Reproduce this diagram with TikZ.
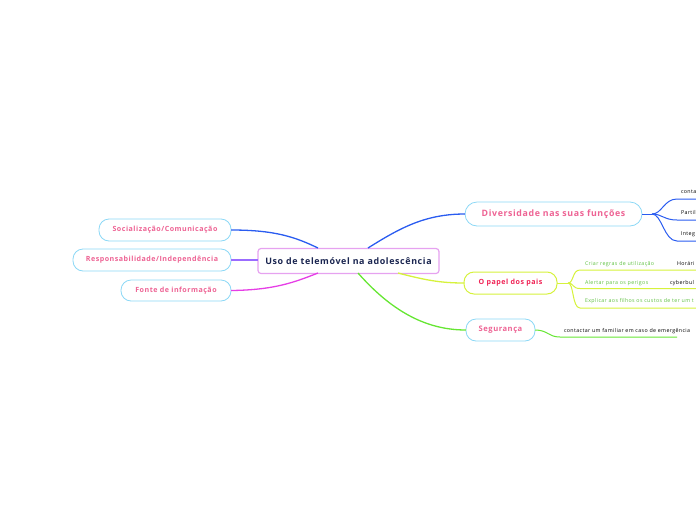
\documentclass[tikz,border=0pt]{standalone}
\usepackage{fontspec}
\setmainfont[LetterSpace=7]{Open Sans}
\begin{document}
\begin{tikzpicture}[x=1pt,y=-1pt,
  every node/.style={inner sep=0pt,outer sep=0pt},
  central/.style={draw=lav,line width=1.2pt,rounded corners=3pt,fill=white,text=navy,font=\fontsize{8.9}{10}\selectfont\bfseries,minimum height=25pt},
  pill/.style={draw=lblue,line width=0.8pt,rounded corners=10pt,fill=white,text=pinktxt,font=\fontsize{7.1}{8}\selectfont\bfseries,minimum height=22pt},
  pillyg/.style={pill,draw=yg,line width=1pt,text=redtxt},
  leaf/.style={font=\fontsize{5.3}{6}\selectfont,text=black,anchor=base west},
  leafg/.style={leaf,text=gtxt},
  conn/.style={line width=1.3pt},
  sub/.style={line width=1pt}]
\definecolor{lav}{HTML}{E6A2F0}
\definecolor{navy}{HTML}{1A2550}
\definecolor{lblue}{HTML}{8CD8F6}
\definecolor{pinktxt}{HTML}{EE6394}
\definecolor{redtxt}{HTML}{F02456}
\definecolor{yg}{HTML}{D6F23C}
\definecolor{gtxt}{HTML}{5EC040}
\definecolor{cblue}{HTML}{2A5CF0}
\definecolor{cpurp}{HTML}{9B6CFF}
\definecolor{cmag}{HTML}{E63EE6}
\definecolor{cgreen}{HTML}{66E633}
\useasboundingbox (0,0) rectangle (696,520);
\clip (0,0) rectangle (696,520);

\coordinate (cTL) at (318,248);
\coordinate (cTR) at (368,248);
\coordinate (cBL) at (318,273);
\coordinate (cBR) at (398,273);
\coordinate (cBM) at (358,273);

\node[central,minimum width=181pt] (c) at (348.5,261) {Uso de telemóvel na adolescência};

\node[pill,minimum width=132pt] (soc) at (165,230) {Socialização/Comunicação};
\node[pill,minimum width=158pt] (resp) at (152,260) {Responsabilidade/Independência};
\node[pill,minimum width=110pt,minimum height=21pt] (fonte) at (176,290.5) {Fonte de informação};

\node[pill,minimum width=177pt,minimum height=24pt,rounded corners=12pt,font=\fontsize{8.8}{10}\selectfont\bfseries] (div) at (553.5,214) {Diversidade nas suas funções};
\node[pillyg,minimum width=93pt] (pais) at (510.5,283) {O papel dos pais};
\node[pill,minimum width=69pt,font=\fontsize{7.6}{8}\selectfont\bfseries] (seg) at (500.5,330) {Segurança};

\draw[conn,cblue] (soc.east) .. controls (275,230) and (295,237) .. (cTL);
\draw[conn,cpurp] (resp.east) -- (c.west |- resp.east);
\draw[conn,cmag] (fonte.east) .. controls (275,290) and (295,282) .. (cBL);
\draw[conn,cblue] (cTR) .. controls (400,228) and (425,214) .. (div.west);
\draw[conn,yg] (cBR) .. controls (425,280) and (440,283) .. (pais.west);
\draw[conn,cgreen] (cBM) .. controls (395,315) and (430,330) .. (seg.west);

% Diversidade children
\coordinate (dj) at (652,214);
\coordinate (d1) at (677,199);
\coordinate (d2) at (677,220);
\coordinate (d3) at (677,241);
\draw[sub,cblue] (div.east) -- (dj);
\draw[sub,cblue] (dj) .. controls (662,214) and (664,199) .. (d1) -- (700,199);
\draw[sub,cblue] (dj) .. controls (662,214) and (664,220) .. (d2) -- (700,220);
\draw[sub,cblue] (dj) .. controls (662,214) and (664,241) .. (d3) -- (700,241);
\node[leaf] (dt1) at (681,193) {conta};
\node[leaf] (dt2) at (681,214.5) {Partil};
\node[leaf] (dt3) at (681,235.5) {Integ};

% Papel dos pais children
\coordinate (pj) at (568,283);
\coordinate (p1) at (580,270);
\coordinate (p1e) at (652,270);
\coordinate (p1b) at (668,270);
\coordinate (p2) at (580,288.5);
\coordinate (p2e) at (645,288.5);
\coordinate (p2b) at (665,288.5);
\coordinate (p3) at (580,308);
\draw[sub,yg] (pais.east) -- (pj);
\draw[sub,yg] (pj) .. controls (574,283) and (572,270) .. (p1) -- (p1e) -- (p1b) -- (700,270);
\draw[sub,yg] (pj) .. controls (574,283) and (572,288.5) .. (p2) -- (p2e) .. controls (655,288.5) .. (p2b) -- (700,288.5);
\draw[sub,yg] (pj) .. controls (574,283) and (572,308) .. (p3) -- (700,308);
\node[leafg] (pt1) at (585,265.5) {Criar regras de utilização};
\node[leaf] (pt1b) at (677,265.5) {Horári};
\node[leafg] (pt2) at (585,284.5) {Alertar para os perigos};
\node[leaf] (pt2b) at (670,284.5) {cyberbul};
\node[leafg] (pt3) at (585,302.5) {Explicar aos filhos os custos de ter um t};

% Segurança child
\coordinate (s1) at (560,337);
\coordinate (s1e) at (677,337);
\draw[sub,cgreen] (seg.east) .. controls (548,330) and (548,337) .. (s1) -- (s1e);
\node[leaf] (st1) at (564,332) {contactar um familiar em caso de emergência};
\end{tikzpicture}
\end{document}
